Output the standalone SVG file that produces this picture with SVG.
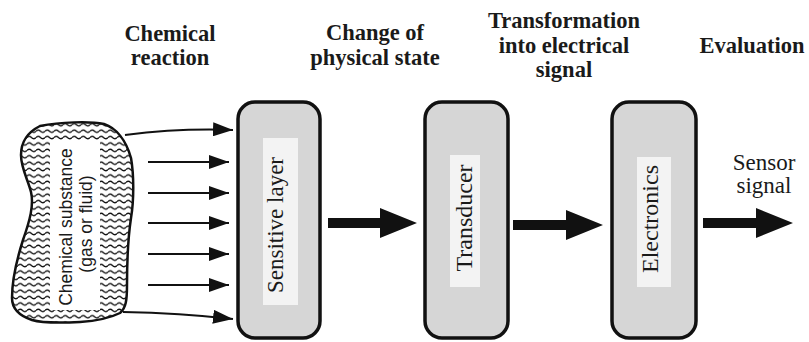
<svg xmlns="http://www.w3.org/2000/svg" width="809" height="342" viewBox="0 0 809 342">
<style>
.hdr{font-family:"Liberation Serif","Times New Roman",serif;font-weight:bold;font-size:22.5px;fill:#1a1a1a;text-anchor:middle}
.lbl{font-family:"Liberation Serif","Times New Roman",serif;font-size:24px;fill:#1a1a1a;text-anchor:middle}
.sans{font-family:"Liberation Sans",Arial,sans-serif;font-size:17.5px;fill:#1a1a1a;text-anchor:middle}
.box{fill:#d6d6d6;stroke:#111;stroke-width:3.5}
.inner{fill:#f3f3f3}
.thin{fill:none;stroke:#111;stroke-width:2}
.big{fill:#111}
</style>
<defs>
<pattern id="waves" patternUnits="userSpaceOnUse" width="9" height="6.4">
<rect width="9" height="6.4" fill="#fff"/>
<path d="M0,3.2 Q2.25,0.9 4.5,3.2 T9,3.2" fill="none" stroke="#111" stroke-width="1.4"/>
</pattern>
<marker id="ah" markerUnits="userSpaceOnUse" markerWidth="20" markerHeight="14" refX="20" refY="7" orient="auto">
<path d="M0,0 L20,7 L0,14 Z" fill="#111"/>
</marker>
</defs>
<rect width="809" height="342" fill="#fff"/>

<g id="headers">
<text class="hdr" x="170" y="41">Chemical</text>
<text class="hdr" x="170" y="65">reaction</text>
<text class="hdr" x="375" y="40">Change of</text>
<text class="hdr" x="375" y="65">physical state</text>
<text class="hdr" x="564" y="28">Transformation</text>
<text class="hdr" x="564" y="53">into electrical</text>
<text class="hdr" x="564" y="77">signal</text>
<text class="hdr" x="752" y="53">Evaluation</text>
</g>

<g id="substance">
<path d="M40,126 C60,122 90,121 104,124 C116,128 126,140 131,158 C134,175 134,200 131,218 C128,238 127,260 127,285 C127,300 126,308 120,313 C110,318 95,321 80,322 C60,323 42,323 32,320 C20,316 12,310 12,298 C12,280 16,262 23,240 C30,220 34,205 31,192 C28,180 21,168 21,155 C21,142 28,132 40,126 Z" fill="url(#waves)" stroke="#111" stroke-width="2.5"/>
<rect x="50" y="141" width="50" height="169" fill="#fff"/>
<text class="sans" transform="translate(72,227) rotate(-90)">Chemical substance</text>
<text class="sans" transform="translate(92,224) rotate(-90)">(gas or fluid)</text>
</g>

<g id="sensitive-layer">
<rect class="box" x="238" y="102" width="82" height="236" rx="17"/>
<rect class="inner" x="263" y="138" width="35" height="167"/>
<text class="lbl" style="font-size:23px" transform="translate(283,225) rotate(-90)">Sensitive layer</text>
</g>

<g id="transducer">
<rect class="box" x="425" y="102" width="83" height="236" rx="17"/>
<rect class="inner" x="450" y="155" width="30" height="132"/>
<text class="lbl" transform="translate(472,218) rotate(-90)">Transducer</text>
</g>

<g id="electronics">
<rect class="box" x="612" y="102" width="84" height="236" rx="17"/>
<rect class="inner" x="637" y="157" width="34" height="130"/>
<text class="lbl" transform="translate(658,219) rotate(-90)">Electronics</text>
</g>

<g id="output-label">
<text class="lbl" style="font-size:23px" x="764" y="170">Sensor</text>
<text class="lbl" style="font-size:23px" x="764" y="193">signal</text>
</g>

<g id="connectors">
<path class="thin" d="M125,135 Q180,128 233,130" marker-end="url(#ah)"/>
<line class="thin" x1="148" y1="162" x2="229" y2="162" marker-end="url(#ah)"/>
<line class="thin" x1="148" y1="193" x2="229" y2="193" marker-end="url(#ah)"/>
<line class="thin" x1="148" y1="223" x2="229" y2="223" marker-end="url(#ah)"/>
<line class="thin" x1="148" y1="254" x2="229" y2="254" marker-end="url(#ah)"/>
<line class="thin" x1="148" y1="285" x2="229" y2="285" marker-end="url(#ah)"/>
<path class="thin" d="M123,312 Q180,313 233,319" marker-end="url(#ah)"/>
<polygon class="big" points="328,218 380,218 380,208 417,223 380,238 380,228 328,228"/>
<polygon class="big" points="513,220 566,220 566,210 603,225 566,240 566,230 513,230"/>
<polygon class="big" points="703,218 756,218 756,208 793,223 756,238 756,228 703,228"/>
</g>
</svg>
